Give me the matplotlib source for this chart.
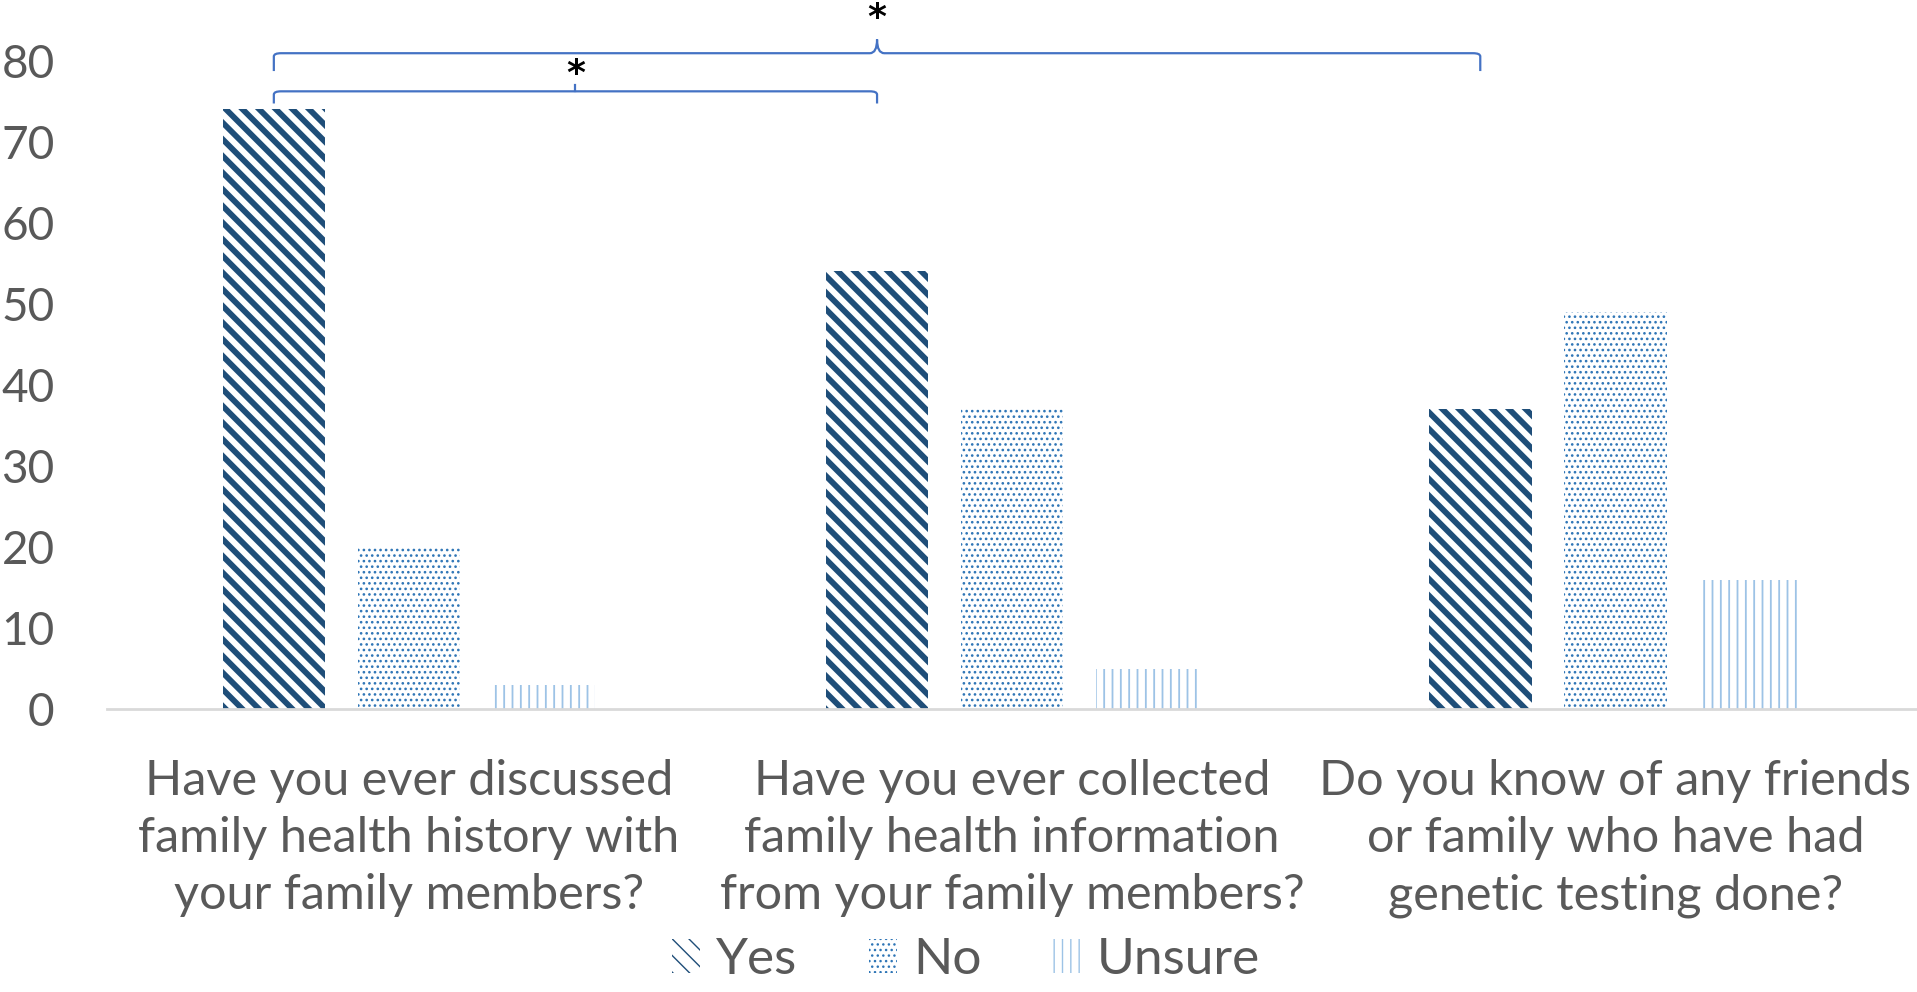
import numpy as np
import matplotlib
matplotlib.use("Agg")
import matplotlib.pyplot as plt
from matplotlib.path import Path
from matplotlib.patches import PathPatch

plt.rcParams['font.family'] = ['Lato', 'DejaVu Sans']

# data
questions = ["Have you ever discussed\nfamily health history with\nyour family members?",
             "Have you ever collected\nfamily health information\nfrom your family members?",
             "Do you know of any friends\nor family who have had\ngenetic testing done?"]
series = ["Yes", "No", "Unsure"]
yes_vals = [74, 54, 37]
no_vals = [20, 37, 49]
unsure_vals = [3, 5, 16]
yticks = [0, 10, 20, 30, 40, 50, 60, 70, 80]

colors = ["#1F4E79", "#2E75B6", "#9DC3E6"]
hatches = ["\\\\", "...", "||"]
hatch_lw = [4.2, 1.1, 1.3]

fig = plt.figure(figsize=(19.17, 9.92), dpi=100)
ax = fig.add_axes([0.056, 0.285, 0.944, 0.654])

x = np.arange(len(questions))
step = 0.224
width = 0.17
handles = []
for i, vals in enumerate([yes_vals, no_vals, unsure_vals]):
    bars = ax.bar(x + (i - 1) * step, vals, width, facecolor="white",
                  edgecolor=colors[i], linewidth=0, hatch=hatches[i], label=series[i])
    for b in bars:
        if hasattr(b, "set_hatch_linewidth"):
            b.set_hatch_linewidth(hatch_lw[i])
    handles.append(bars)

ax.set_xlim(-0.5, 2.5)
ax.set_ylim(0, 80)
ax.set_yticks(yticks)
ax.set_xticks(x)
ax.set_xticklabels(questions, fontsize=35, color="#595959", linespacing=1.36)
ax.tick_params(axis="y", length=0, pad=38, labelsize=33, labelcolor="#595959")
ax.tick_params(axis="x", length=0, pad=36)
for s in ["top", "right", "left"]:
    ax.spines[s].set_visible(False)
ax.spines["bottom"].set_color("#D9D9D9")
ax.spines["bottom"].set_linewidth(2)


def bracket(x0, x1, y, h, tip):
    xm = (x0 + x1) / 2
    r = 0.012
    verts = [(x0, y - h), (x0, y - 0.4), (x0, y), (x0 + r, y),
             (xm - r, y), (xm, y), (xm, y + tip),
             (xm, y), (xm + r, y),
             (x1 - r, y), (x1, y), (x1, y - 0.4), (x1, y - h)]
    codes = [Path.MOVETO, Path.LINETO, Path.CURVE3, Path.CURVE3,
             Path.LINETO, Path.CURVE3, Path.CURVE3,
             Path.CURVE3, Path.CURVE3,
             Path.LINETO, Path.CURVE3, Path.CURVE3, Path.LINETO]
    ax.add_patch(PathPatch(Path(verts, codes), fill=False, edgecolor="#4472C4",
                           linewidth=1.6, clip_on=False))


# significance brackets: Yes Q1 vs Yes Q2, Yes Q1 vs Yes Q3
bracket(x[0] - step, x[1] - step, 76.2, 1.5, 0.0)
ax.plot([(x[0] + x[1]) / 2 - step] * 2, [76.2, 77.0],
        color="#4472C4", linewidth=1.6, clip_on=False)
ax.text((x[0] + x[1]) / 2 - step, 78.3, "*", ha="center", va="center",
        fontsize=26, fontweight="bold", family="DejaVu Sans")
bracket(x[0] - step, x[2] - step, 80.9, 2.2, 1.7)
ax.text((x[0] + x[2]) / 2 - step, 85.2, "*", ha="center", va="center",
        fontsize=26, fontweight="bold", family="DejaVu Sans", clip_on=False)

fig.legend(handles=handles, labels=series, loc="lower center", bbox_to_anchor=(0.504, -0.022),
           ncol=3, frameon=False, fontsize=37, labelcolor="#595959", borderpad=0.1,
           handlelength=0.55, handleheight=0.65, handletextpad=0.3, columnspacing=1.4)

fig.savefig("out.png", dpi=100)
